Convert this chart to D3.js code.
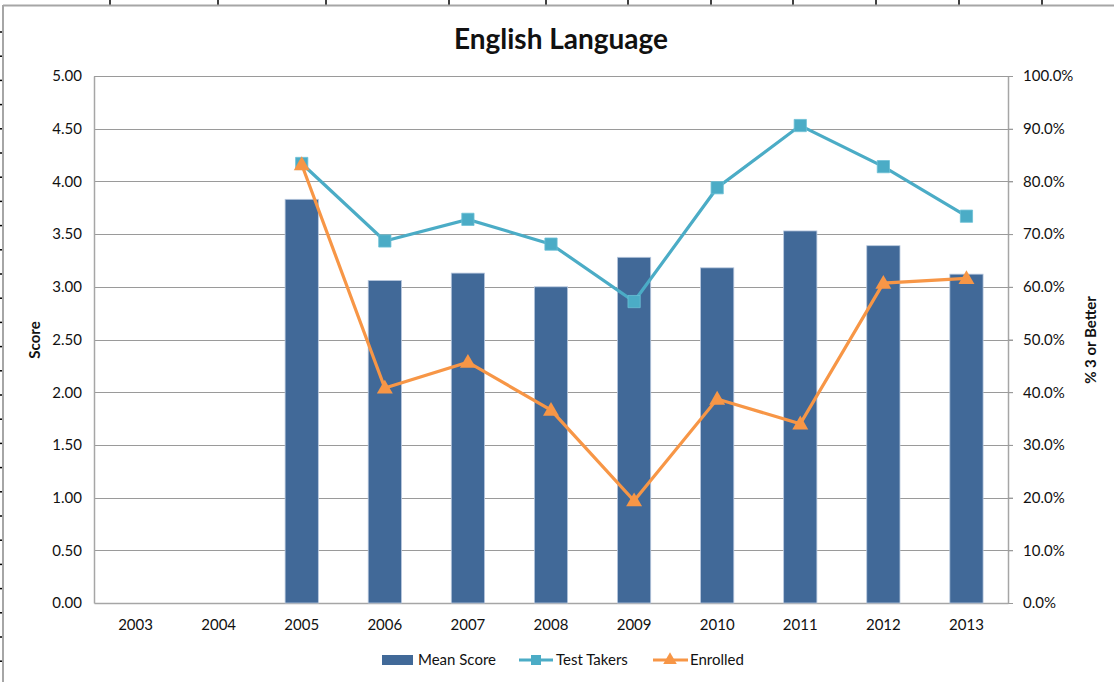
<!DOCTYPE html>
<html>
<head>
<meta charset="utf-8">
<script src="https://cdn.jsdelivr.net/npm/d3@7"></script>
<style>
  body { margin: 0; background: #fff; }
  text { font-family: Lato, "Open Sans", sans-serif; fill: #111; }
</style>
</head>
<body>
<script>
// chart data
var years = ["2003", "2004", "2005", "2006", "2007", "2008", "2009", "2010", "2011", "2012", "2013"];
var meanScore = [null, null, 3.83, 3.06, 3.13, 3.00, 3.28, 3.18, 3.53, 3.39, 3.12];
var testTakers = [null, null, 83.4, 68.7, 72.8, 68.1, 57.2, 78.8, 90.6, 82.8, 73.4];
var enrolled = [null, null, 83.2, 40.8, 45.7, 36.6, 19.4, 38.7, 34.0, 60.7, 61.6];
var scoreTicks = [0, 0.5, 1, 1.5, 2, 2.5, 3, 3.5, 4, 4.5, 5];
var pctTicks = [0, 10, 20, 30, 40, 50, 60, 70, 80, 90, 100];

var W = 1114, H = 682;
var svg = d3.select("body").append("svg")
            .attr("width", W)
            .attr("height", H);

// spreadsheet cell lines behind the chart
var colEdges = [110, 218, 326, 449, 546, 628, 711, 793, 876, 959, 1042];
svg.selectAll(".colTick").data(colEdges).enter().append("line")
   .attr("x1", function(d){ return d; }).attr("x2", function(d){ return d; })
   .attr("y1", 0).attr("y2", 5)
   .style("stroke", "#000").style("stroke-width", 1.5);
svg.selectAll(".rowTick").data(d3.range(32, H, 24.2)).enter().append("line")
   .attr("x1", 0).attr("x2", 3)
   .attr("y1", function(d){ return d; }).attr("y2", function(d){ return d; })
   .style("stroke", "#000").style("stroke-width", 1.5);
svg.append("line").attr("x1", 3).attr("x2", W).attr("y1", 5.5).attr("y2", 5.5)
   .style("stroke", "#a6a6a6").style("stroke-width", 2);
svg.append("line").attr("x1", 3).attr("x2", 3).attr("y1", 5).attr("y2", H)
   .style("stroke", "#a6a6a6").style("stroke-width", 2);

var plotL = 94, plotR = 1008, plotT = 76, plotB = 603;

var x = d3.scaleBand().domain(years).range([plotL, plotR]).paddingInner(0).paddingOuter(0);
var yL = d3.scaleLinear().domain([0, 5]).range([plotB, plotT]);
var yR = d3.scaleLinear().domain([0, 100]).range([plotB, plotT]);

// gridlines
svg.append("g")
   .selectAll("line").data(scoreTicks.slice(1)).enter().append("line")
   .attr("x1", plotL).attr("x2", plotR + 5)
   .attr("y1", function(d){ return Math.round(yL(d)) + 0.5; })
   .attr("y2", function(d){ return Math.round(yL(d)) + 0.5; })
   .style("stroke", "#9a9a9a").style("stroke-width", 1);

// left axis
var axL = svg.append("g").attr("transform", "translate(" + plotL + ",0)")
   .call(d3.axisLeft(yL).tickValues(scoreTicks).tickSize(0).tickPadding(12).tickFormat(d3.format(".2f")));
axL.select(".domain").style("stroke", "#a6a6a6").style("stroke-width", 1.5);
axL.selectAll("text").style("font-size", "15px").style("fill", "#111");

// right axis
var axR = svg.append("g").attr("transform", "translate(" + plotR + ",0)")
   .call(d3.axisRight(yR).tickValues(pctTicks).tickSize(5).tickPadding(10).tickSizeOuter(0)
           .tickFormat(function(d){ return d.toFixed(1) + "%"; }));
axR.select(".domain").style("stroke", "#a6a6a6").style("stroke-width", 1.5);
axR.selectAll("line").style("stroke", "#9a9a9a");
axR.selectAll("text").style("font-size", "15px").style("fill", "#111");

// bottom axis
var axB = svg.append("g").attr("transform", "translate(0," + plotB + ")")
   .call(d3.axisBottom(x).tickSize(0).tickPadding(16));
axB.select(".domain").style("stroke", "#a6a6a6").style("stroke-width", 1.5);
axB.selectAll("text").style("font-size", "15px").style("fill", "#111");

// bars
var barW = x.bandwidth() / 2.5;
svg.append("g").selectAll("rect")
   .data(years.map(function(y, i){ return {year: y, v: meanScore[i]}; }).filter(function(d){ return d.v != null; }))
   .enter().append("rect")
   .attr("x", function(d){ return x(d.year) + (x.bandwidth() - barW) / 2; })
   .attr("width", barW)
   .attr("y", function(d){ return yL(d.v); })
   .attr("height", function(d){ return plotB - yL(d.v); })
   .style("fill", "#416998")
   .style("stroke", "#b8c8de")
   .style("stroke-width", 0.8);

function seriesPts(vals) {
  return years.map(function(y, i){ return {year: y, v: vals[i]}; })
              .filter(function(d){ return d.v != null; });
}
var lineGen = d3.line()
   .x(function(d){ return x(d.year) + x.bandwidth() / 2; })
   .y(function(d){ return yR(d.v); });

// test takers
var tt = seriesPts(testTakers);
svg.append("path").datum(tt).attr("d", lineGen)
   .style("fill", "none").style("stroke", "#4bacc6").style("stroke-width", 3.2);
svg.append("g").selectAll("path").data(tt).enter().append("path")
   .attr("d", d3.symbol().type(d3.symbolSquare).size(150))
   .attr("transform", function(d){ return "translate(" + (x(d.year) + x.bandwidth() / 2) + "," + yR(d.v) + ")"; })
   .style("fill", "#4bacc6").style("stroke", "#6cc0d6").style("stroke-width", 0.8);

// enrolled
var en = seriesPts(enrolled);
svg.append("path").datum(en).attr("d", lineGen)
   .style("fill", "none").style("stroke", "#f79646").style("stroke-width", 3.2);
svg.append("g").selectAll("path").data(en).enter().append("path")
   .attr("d", d3.symbol().type(d3.symbolTriangle).size(110))
   .attr("transform", function(d){ return "translate(" + (x(d.year) + x.bandwidth() / 2) + "," + (yR(d.v) + 1) + ")"; })
   .style("fill", "#f79646");

// title and axis titles
svg.append("text").attr("x", 561).attr("y", 49).attr("text-anchor", "middle")
   .style("font-size", "28px").style("font-weight", "bold").text("English Language");
svg.append("text").attr("transform", "translate(40,340) rotate(-90)").attr("text-anchor", "middle")
   .style("font-size", "15px").style("font-weight", "bold").text("Score");
svg.append("text").attr("transform", "translate(1096,340) rotate(-90)").attr("text-anchor", "middle")
   .style("font-size", "15px").style("font-weight", "bold").text("% 3 or Better");

// legend
var lg = svg.append("g").attr("transform", "translate(0,660)");
lg.append("rect").attr("x", 382).attr("y", -5).attr("width", 31).attr("height", 10).style("fill", "#416998");
lg.append("text").attr("x", 418).attr("y", 5).style("font-size", "15px").text("Mean Score");
lg.append("line").attr("x1", 519).attr("x2", 553).attr("y1", 0).attr("y2", 0)
  .style("stroke", "#4bacc6").style("stroke-width", 3.2);
lg.append("path").attr("d", d3.symbol().type(d3.symbolSquare).size(100)).attr("transform", "translate(536,0)")
  .style("fill", "#4bacc6");
lg.append("text").attr("x", 556).attr("y", 5).style("font-size", "15px").text("Test Takers");
lg.append("line").attr("x1", 653).attr("x2", 688).attr("y1", 0).attr("y2", 0)
  .style("stroke", "#f79646").style("stroke-width", 3.2);
lg.append("path").attr("d", d3.symbol().type(d3.symbolTriangle).size(80)).attr("transform", "translate(670,0)")
  .style("fill", "#f79646");
lg.append("text").attr("x", 690).attr("y", 5).style("font-size", "15px").text("Enrolled");
</script>
</body>
</html>
